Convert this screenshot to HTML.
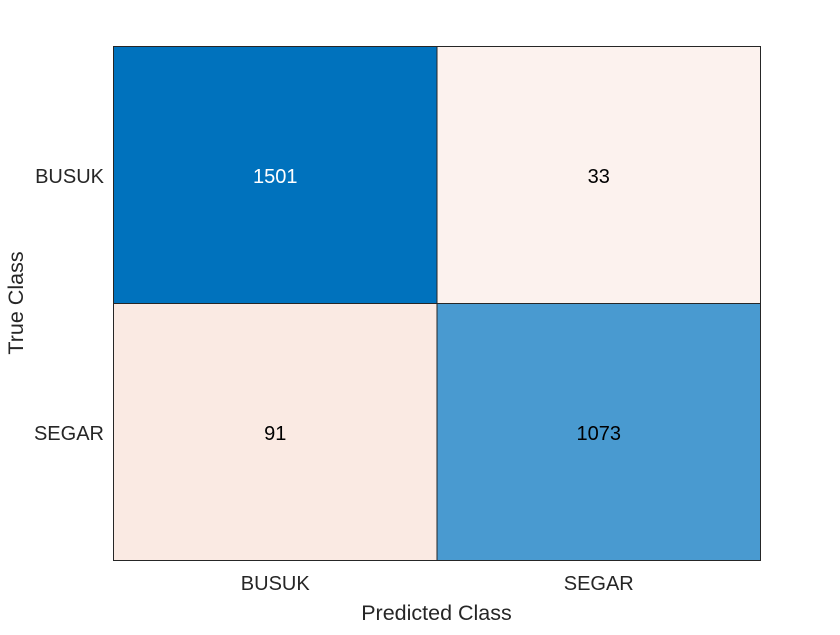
<!DOCTYPE html>
<html><head><meta charset="utf-8">
<style>
html,body{margin:0;padding:0;background:#fff;}
svg text{font-family:"Liberation Sans",Arial,sans-serif;}
</style></head>
<body>
<svg id="chart" width="840" height="630" viewBox="0 0 840 630" xmlns="http://www.w3.org/2000/svg">
<rect width="840" height="630" fill="#fff"/>
<g id="cells"></g>
<g id="labels"></g>
<text x="436.5" y="620" font-size="21.5" fill="#262626" text-anchor="middle">Predicted Class</text>
<text transform="translate(23,303) rotate(-90)" font-size="21.5" fill="#262626" text-anchor="middle">True Class</text>
</svg>
<script>
const classes = ["BUSUK", "SEGAR"];
const row0 = [1501, 33];
const row1 = [91, 1073];
const matrix = [row0, row1];

const L = 113.5, R = 760.5, T = 46.5, B = 560.5;
const n = classes.length;
const cw = (R - L) / n, ch = (B - T) / n;
const xPos = j => L + j * cw;
const yPos = i => T + i * ch;
let maxV = 0;
matrix.forEach(r => r.forEach(v => { if (v > maxV) maxV = v; }));

function color(v, diag) {
  if (diag) {
    const t = v / maxV;
    return `rgb(${Math.round(255 - 255 * t)},${Math.round(255 - 141 * t)},${Math.round(255 - 66 * t)})`;
  }
  const t = Math.sqrt(v / maxV) * 0.5;
  return `rgb(${Math.round(255 - 38 * t)},${Math.round(255 - 172 * t)},${Math.round(255 - 230 * t)})`;
}
const NS = "http://www.w3.org/2000/svg";
const cells = document.getElementById("cells");
const labels = document.getElementById("labels");
matrix.forEach((r, i) => r.forEach((v, j) => {
  const rect = document.createElementNS(NS, "rect");
  
  
  rect.setAttribute("x", xPos(j)); rect.setAttribute("y", yPos(i));
  rect.setAttribute("width", cw); rect.setAttribute("height", ch);
  rect.setAttribute("fill", color(v, i === j));
  rect.setAttribute("stroke", "#262626"); rect.setAttribute("stroke-width", "1");
  cells.appendChild(rect);
  const tx = document.createElementNS(NS, "text");
  
  
  tx.setAttribute("x", xPos(j) + cw / 2); tx.setAttribute("y", yPos(i) + ch / 2 + 8);
  tx.setAttribute("text-anchor", "middle"); tx.setAttribute("font-size", "20");
  const t = i === j ? v / maxV : 0;
  tx.setAttribute("fill", t > 0.8 ? "#fff" : "#000");
  tx.textContent = v;
  cells.appendChild(tx);
}));
classes.forEach((c, k) => {
  const xl = document.createElementNS(NS, "text");
  
  
  xl.setAttribute("x", xPos(k) + cw / 2); xl.setAttribute("y", 590);
  xl.setAttribute("text-anchor", "middle"); xl.setAttribute("font-size", "20"); xl.setAttribute("fill", "#262626");
  xl.textContent = c; labels.appendChild(xl);
  const yl = document.createElementNS(NS, "text");
  
  
  yl.setAttribute("x", 104); yl.setAttribute("y", yPos(k) + ch / 2 + 8);
  yl.setAttribute("text-anchor", "end"); yl.setAttribute("font-size", "20"); yl.setAttribute("fill", "#262626");
  yl.textContent = c; labels.appendChild(yl);
});
</script>
</body></html>
